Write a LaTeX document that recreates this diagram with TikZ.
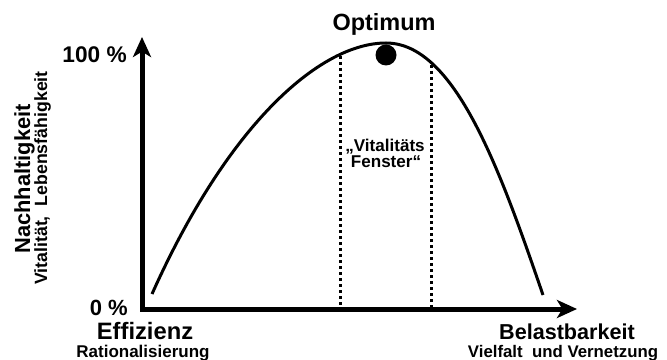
\documentclass[tikz,border=0pt]{standalone}
\usepackage{fontspec}
\setmainfont{Liberation Sans}
\usetikzlibrary{arrows.meta}
\begin{document}
\begin{tikzpicture}[x=0.75pt,y=-0.75pt,
  axisline/.style={line width=3.75pt,line join=miter,
    arrows={Stealth[length=15pt,width=13.5pt,inset=4pt]-Stealth[length=15pt,width=13.5pt,inset=4pt]}},
  curveline/.style={line width=2.25pt},
  dotline/.style={line width=2.25pt,dash pattern=on 2.25pt off 2.25pt},
  lbl/.style={inner sep=0pt,anchor=base,font=\bfseries},
]
\useasboundingbox (0,0) rectangle (667,360);
% axes
\coordinate (O) at (142,309);
\coordinate (ytip) at (142,37);
\coordinate (xtip) at (577,309);
\draw[axisline] (ytip) -- (O) -- (xtip);
% curve
\coordinate (cs) at (152,294);
\coordinate (peak) at (386,43);
\coordinate (ce) at (543,295);
\draw[curveline] (cs) .. controls (230,120) and (322,43) .. (peak)
  .. controls (455,43) and (500,170) .. (ce);
% dotted window
\coordinate (d1t) at (340,56);
\coordinate (d1b) at (340,307);
\coordinate (d2t) at (431,65);
\coordinate (d2b) at (431,307);
\draw[dotline] (d1t) -- (d1b);
\draw[dotline] (d2t) -- (d2b);
% optimum dot
\fill (386,55) circle[radius=10.5];
% labels
\node[lbl,font=\bfseries\fontsize{17.6pt}{18pt}\selectfont] (opt) at (384,31) {Optimum};
\node[lbl,font=\bfseries\fontsize{17pt}{18pt}\selectfont,anchor=base east] (hundred) at (127,63) {100 \%};
\node[lbl,font=\bfseries\fontsize{16.5pt}{18pt}\selectfont,anchor=base east] (zero) at (128,315) {0 \%};
\node[lbl,font=\bfseries\fontsize{17.8pt}{18pt}\selectfont] (eff) at (145,339) {Effizienz};
\node[lbl,font=\bfseries\fontsize{12.75pt}{13pt}\selectfont] (rat) at (143,357) {Rationalisierung};
\node[lbl,font=\bfseries\fontsize{16.2pt}{18pt}\selectfont] (bel) at (567,339) {Belastbarkeit};
\node[lbl,font=\bfseries\fontsize{12.6pt}{13pt}\selectfont] (viel) at (563,357) {Vielfalt\ \ und Vernetzung};
\node[lbl,font=\bfseries\fontsize{12.8pt}{13pt}\selectfont] (vit1) at (385,151) {„Vitalitäts};
\node[lbl,font=\bfseries\fontsize{12.8pt}{13pt}\selectfont] (vit2) at (386,167) {Fenster“};
\node[lbl,font=\bfseries\fontsize{16.4pt}{18pt}\selectfont,rotate=90] (nach) at (30,179) {Nachhaltigkeit};
\node[lbl,font=\bfseries\fontsize{13.3pt}{14pt}\selectfont,rotate=90] (vital) at (47,178) {Vitalität,\ \ Lebensfähigkeit};
\end{tikzpicture}
\end{document}
